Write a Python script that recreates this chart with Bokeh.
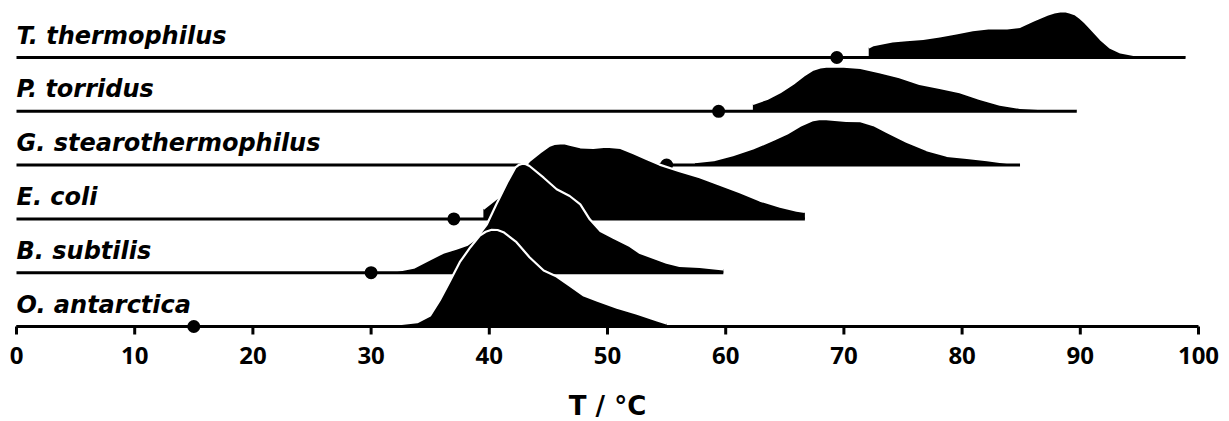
from bokeh.plotting import figure
from bokeh.models import Range1d
from bokeh.core.properties import value
from bokeh.embed import file_html
from bokeh.resources import INLINE

# ---------------- data ----------------
species = ["T. thermophilus", "P. torridus", "G. stearothermophilus",
           "E. coli", "B. subtilis", "O. antarctica"]
growth_temp = [69.4, 59.4, 55.0, 37.0, 30.0, 15.0]

tth_t = [72.1, 72.5, 74.1, 75.3, 76.7, 78.1, 79.5, 80.9, 82.4, 83.8, 84.9, 86.0,
         87.2, 87.8, 88.3, 88.7, 89.1, 89.6, 90.0, 90.4, 90.8, 91.7, 92.5, 93.4,
         94.5, 96.5, 97.8, 98.9]
tth_d = [10, 12.4, 16, 17.4, 18.7, 21, 24, 27.4, 29.4, 29, 30.7, 36.7,
         42.7, 45, 46, 46.3, 45, 43, 39.4, 35, 30, 18.4, 10, 5,
         2.7, 2.3, 2, 1.5]

pto_t = [62.3, 63.5, 64.6, 65.7, 66.6, 67.4, 68.0, 68.5, 69.7, 71.4, 73.0, 74.7,
         76.4, 78.1, 79.8, 81.5, 83.2, 84.9, 87.2, 89.7]
pto_d = [7.4, 12.4, 19, 27.4, 35.7, 41.7, 43.8, 44.7, 45, 43.4, 39, 34,
         27.4, 23.4, 19, 12.4, 6.7, 3.4, 2, 1.5]

gst_t = [57.4, 59.0, 60.6, 62.3, 64.0, 65.2, 66.3, 67.4, 67.9, 68.5, 70.2, 71.4,
         72.5, 73.6, 75.3, 77.0, 78.7, 80.4, 82.1, 83.8, 84.9]
gst_d = [3, 5, 10, 16.6, 25, 31.6, 39.3, 45, 46, 46, 44.3, 44,
         40, 33.3, 23.3, 15, 9.3, 7.3, 5, 2.3, 1.5]

eco_t = [39.5, 40.9, 42.0, 43.4, 44.3, 45.1, 45.5, 46.0, 46.4, 46.8, 47.7, 48.8,
         49.9, 51.1, 52.2, 53.3, 54.4, 56.1, 57.8, 59.5, 61.2, 62.9, 64.6, 66.0,
         66.7]
eco_d = [10, 23, 38, 58, 66.6, 73.3, 75, 75.6, 75.5, 74.3, 71.6, 71,
         72.3, 71, 65.6, 60, 54.3, 47.6, 41.6, 34.3, 26.6, 18.3, 12.3, 8.3,
         7]

bsu_t = [30.7, 32.2, 33.6, 35.0, 36.1, 37.2, 38.1, 38.9, 39.8, 40.6, 41.5, 42.2,
         42.5, 42.8, 43.1, 43.4, 44.6, 45.7, 46.8, 47.7, 48.5, 49.4, 50.5, 51.9,
         52.7, 55.0, 56.1, 57.8, 59.8]
bsu_d = [0.5, 1.7, 5, 13.4, 20, 24, 27.7, 34.4, 48.4, 68.4, 90, 105,
         107.8, 109, 108.5, 106.7, 95, 83.4, 76.7, 68.4, 53.4, 41.7, 35, 26.7,
         20, 10, 6.7, 5.7, 3.4]

oan_t = [30.7, 32.2, 33.9, 35.0, 35.8, 36.7, 37.5, 38.4, 39.2, 39.7, 40.2, 40.7,
         41.2, 42.3, 43.4, 44.6, 45.7, 46.8, 48.0, 49.1, 50.8, 52.5, 54.2, 55.0]
oan_d = [0.5, 2, 4.3, 11, 26, 46, 64.3, 79.3, 91, 94.8, 96.7, 96.5,
         94.3, 84.3, 69.3, 56, 50, 41, 31, 26, 18.7, 12.7, 6, 3]

temps = [tth_t, pto_t, gst_t, eco_t, bsu_t, oan_t]
dens = [tth_d, pto_d, gst_d, eco_d, bsu_d, oan_d]

x_ticks = [0, 10, 20, 30, 40, 50, 60, 70, 80, 90, 100]
x_tick_labels = [str(v) for v in x_ticks]
x_label = "T / °C"

# ---------------- styling / layout constants ----------------
W, H = 1229, 421
X_PX = 11.82               # pixels per degree
ROW_PX = 53.8              # pixels per row spacing
LEFT_PX = 16               # pixel position of T = 0
BASE_PX = 326              # pixel position of the lowest baseline (from top)
RIDGE_SCALE = 1 / ROW_PX   # density units -> row units
TICK_LEN = 8 / ROW_PX
LABEL_FONT = "DejaVu Sans"
TICK_FONT = "Open Sans"

p = figure(width=W, height=H, output_backend="svg", toolbar_location=None,
           x_axis_type=None, y_axis_type=None,
           x_range=Range1d(-LEFT_PX / X_PX, (W - LEFT_PX) / X_PX),
           y_range=Range1d(-(H - BASE_PX) / ROW_PX, BASE_PX / ROW_PX),
           min_border=0)
p.outline_line_color = None
p.grid.visible = False
p.background_fill_color = "white"
p.border_fill_color = "white"

# axis: line at the lowest baseline, ticks, tick labels, axis title
p.line([x_ticks[0], x_ticks[-1]], [0, 0], line_color="black", line_width=3)
p.segment(x0=x_ticks, y0=[0] * len(x_ticks), x1=x_ticks, y1=[-TICK_LEN] * len(x_ticks),
          line_color="black", line_width=3)
p.text(x=x_ticks, y=[0] * len(x_ticks), text=x_tick_labels, text_font=value(TICK_FONT),
       text_font_style="bold", text_font_size="24px", text_align="center",
       text_baseline="middle", y_offset=29, text_color="black")
p.text(x=[(x_ticks[0] + x_ticks[-1]) / 2], y=[0], text=[x_label],
       text_font=value(LABEL_FONT), text_font_style="bold", text_font_size="26px",
       text_align="center", text_baseline="middle", y_offset=79, text_color="black")

n = len(species)
for i, (name, gt, t, d) in enumerate(zip(species, growth_temp, temps, dens)):
    row = n - 1 - i
    ys = [row + v * RIDGE_SCALE for v in d]
    px = [t[0]] + t + [t[-1]]
    py = [row] + ys + [row]
    p.patch(px, py, fill_color="black", line_color=None)
    p.line(t, ys, line_color="white", line_width=2.2, line_join="round")
    p.line([0, t[-1]], [row, row], line_color="black", line_width=3)
    p.scatter([gt], [row], size=13, fill_color="black", line_color=None)
    p.text([0], [row], text=[name], text_font=value(LABEL_FONT),
           text_font_style="bold italic", text_font_size="24px",
           text_baseline="alphabetic", text_align="left",
           y_offset=-22, text_color="black")

open("out.html", "w").write(file_html(p, INLINE))
